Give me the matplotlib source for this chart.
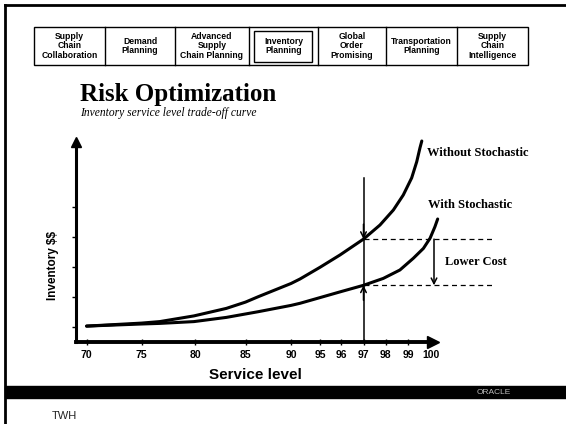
import matplotlib
matplotlib.use('Agg')
import matplotlib.pyplot as plt
import numpy as np
from matplotlib.patches import Rectangle

# data
service_ticks = [70, 75, 80, 85, 90, 95, 96, 97, 98, 99, 100]
without_level = [70, 75, 76.7, 79.9, 83.1, 85, 86.4, 90, 91.55, 95, 95.95, 97, 97.75, 98.35,
                 98.79, 99.16, 99.38, 99.52, 99.6]
without_inv = [1.03, 1.13, 1.18, 1.37, 1.62, 1.83, 2.01, 2.45, 2.6, 2.99, 3.4, 3.93, 4.4, 4.9,
               5.4, 5.97, 6.51, 6.97, 7.2]
with_level = [70, 75, 76.7, 79.9, 83.1, 86.4, 90, 91.55, 95, 95.95, 97, 97.9, 98.64, 99.23,
              99.67, 99.96, 100.17, 100.29]
with_inv = [1.03, 1.1, 1.12, 1.18, 1.32, 1.51, 1.72, 1.79, 1.98, 2.17, 2.39, 2.62, 2.9, 3.29,
            3.62, 3.96, 4.34, 4.6]
inv_ticks = [1, 2, 3, 4, 5]
chosen_level = 97
nav_labels = ['Supply\nChain\nCollaboration', 'Demand\nPlanning', 'Advanced\nSupply\nChain Planning',
              'Inventory\nPlanning', 'Global\nOrder\nPromising', 'Transportation\nPlanning',
              'Supply\nChain\nIntelligence']

# the slide's x axis is not linear: where each service level sits (pixels)
scale_levels = [65] + service_ticks + [105]
scale_pos = [31.6, 86.6, 141.5, 195, 245.5, 291, 320, 341, 363.5, 385.5, 408, 431, 546]


def fwd(x):
    return np.interp(x, scale_levels, scale_pos)


def inv(p):
    return np.interp(p, scale_pos, scale_levels)


W, H = 566, 424
fig = plt.figure(figsize=(W / 100, H / 100), dpi=100)

# slide decorations in pixel coordinates
deco = fig.add_axes([0, 0, 1, 1])
deco.set_xlim(0, W)
deco.set_ylim(H, 0)
deco.axis('off')
deco.plot([5, 5], [5, H], color='black', lw=2)
deco.plot([5, W], [5, 5], color='black', lw=2)

edges = [34, 105, 175, 249, 318, 386, 457, 528]
deco.add_patch(Rectangle((edges[0], 27), edges[-1] - edges[0], 38, fill=False, lw=1, ec='black'))
for e in edges[1:-1]:
    deco.plot([e, e], [27, 65], color='black', lw=1)
for i, lab in enumerate(nav_labels):
    cx = (edges[i] + edges[i + 1]) / 2
    deco.text(cx, 46, lab, ha='center', va='center', fontsize=6.2, fontweight='bold',
              family='Liberation Sans', linespacing=1.05)
deco.add_patch(Rectangle((254, 31), 58, 31, fill=False, lw=1, ec='black'))

deco.add_patch(Rectangle((5, 386), W - 5, 12, color='black'))
deco.text(494, 392.5, 'ORACLE', ha='center', va='center', fontsize=6, color='#bbbbbb',
          family='Liberation Sans')
deco.text(52, 411, 'TWH', ha='left', va='top', fontsize=8, color='#222222', family='Liberation Sans')

deco.text(80, 95, 'Risk Optimization', ha='left', va='center', fontsize=18, fontweight='bold',
          family='Liberation Serif')
deco.text(80, 113, 'Inventory service level trade-off curve', ha='left', va='center', fontsize=8.3,
          style='italic', family='Liberation Serif')
deco.text(255, 375, 'Service level', ha='center', va='center', fontsize=11, fontweight='bold',
          family='Liberation Sans')
deco.text(53, 266, r'Inventory \$\$', ha='center', va='center', fontsize=8.5, fontweight='bold',
          rotation=90, family='Liberation Sans')

# the chart itself
ax = fig.add_axes([76 / W, 1 - 342 / H, (433 - 76) / W, (342 - 142) / H])
ax.set_facecolor('none')
ax.set_xscale('function', functions=(fwd, inv))
ax.set_xlim(inv(76), inv(433))
ax.set_ylim(0.5, 1 + 185 / 30)

for s in ('top', 'right'):
    ax.spines[s].set_visible(False)
ax.spines['left'].set_linewidth(2.2)
ax.spines['bottom'].set_linewidth(2.8)
ax.plot(0, 1, marker='^', color='black', ms=7, transform=ax.transAxes, clip_on=False)
ax.plot(1, 0, marker='>', color='black', ms=8, transform=ax.transAxes, clip_on=False)

ax.set_xticks(service_ticks)
ax.set_xticklabels([str(t) for t in service_ticks], fontsize=7.5, fontweight='bold',
                   family='Liberation Sans')
ax.tick_params(axis='x', direction='inout', length=4, width=1, pad=4)
ax.set_yticks(inv_ticks)
ax.set_yticklabels([])
ax.tick_params(axis='y', direction='out', length=3, width=1)
ax.minorticks_off()

for lv, iv in ((without_level, without_inv), (with_level, with_inv)):
    ax.plot(lv, iv, color='black', lw=2.2, clip_on=False,
            solid_capstyle='round', solid_joinstyle='round')

hi = np.interp(chosen_level, without_level, without_inv)
lo = np.interp(chosen_level, with_level, with_inv)
top = 1 + 149 / 30
ax.plot([chosen_level, chosen_level], [0.5, top], color='black', lw=1.1)
ax.annotate('', xy=(chosen_level, hi), xytext=(chosen_level, hi + 0.5),
            arrowprops=dict(arrowstyle='->', color='black', lw=1.1, shrinkA=0, shrinkB=0))
ax.annotate('', xy=(chosen_level, lo), xytext=(chosen_level, lo - 0.5),
            arrowprops=dict(arrowstyle='->', color='black', lw=1.1, shrinkA=0, shrinkB=0))

dash_end = inv(493)
ax.plot([chosen_level, dash_end], [hi, hi], color='black', lw=0.9, ls=(0, (4, 3)), clip_on=False)
ax.plot([chosen_level, dash_end], [lo, lo], color='black', lw=0.9, ls=(0, (4, 3)), clip_on=False)
cost_x = inv(434)
ax.annotate('', xy=(cost_x, lo), xytext=(cost_x, hi),
            arrowprops=dict(arrowstyle='->', color='black', lw=1.1, shrinkA=0, shrinkB=0),
            annotation_clip=False)

ax.text(inv(427), 1 + (327 - 153) / 30, 'Without Stochastic', ha='left', va='center', fontsize=9,
        fontweight='bold', family='Liberation Serif', clip_on=False)
ax.text(inv(428), 1 + (327 - 205) / 30, 'With Stochastic', ha='left', va='center', fontsize=9,
        fontweight='bold', family='Liberation Serif', clip_on=False)
ax.text(inv(445), 1 + (327 - 262) / 30, 'Lower Cost', ha='left', va='center', fontsize=9,
        fontweight='bold', family='Liberation Serif', clip_on=False)

fig.savefig('out.png', dpi=100)
